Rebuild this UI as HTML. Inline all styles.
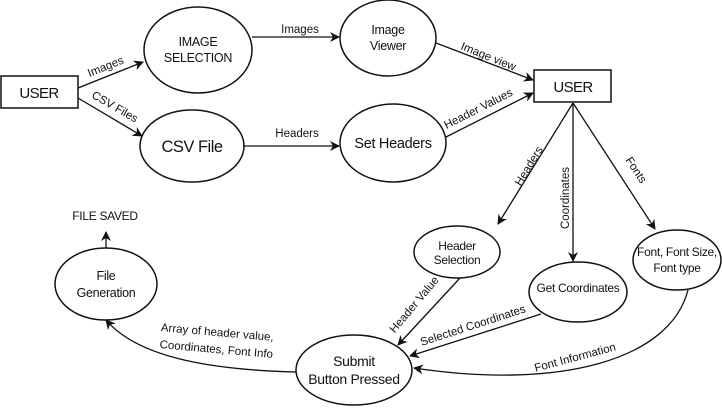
<!DOCTYPE html>
<html><head><style>body{margin:0;background:#fff}svg{display:block}text{font-family:"Liberation Sans",sans-serif;fill:#111}</style></head><body>
<svg width="722" height="408" viewBox="0 0 722 408" xmlns="http://www.w3.org/2000/svg">
<defs><marker id="a" markerWidth="10" markerHeight="10" refX="9" refY="5" orient="auto" markerUnits="userSpaceOnUse"><path d="M0,0 L10,5 L0,10 L3,5 Z" fill="#111"/></marker></defs>
<g fill="none" stroke="#111" stroke-width="1.5">
<rect x="1" y="76" width="77" height="32"/>
<rect x="534" y="70" width="77" height="32"/>
<ellipse cx="198" cy="50" rx="54" ry="43"/>
<ellipse cx="192" cy="146" rx="52" ry="36"/>
<ellipse cx="388" cy="38" rx="48" ry="38"/>
<ellipse cx="393" cy="143" rx="53" ry="39"/>
<ellipse cx="457" cy="252" rx="43" ry="26"/>
<ellipse cx="578" cy="292" rx="49" ry="30"/>
<ellipse cx="677" cy="260" rx="44" ry="30"/>
<ellipse cx="354" cy="370" rx="58" ry="35"/>
<ellipse cx="106" cy="284" rx="51" ry="36"/>
</g>
<g fill="none" stroke="#111" stroke-width="1.3" marker-end="url(#a)">
<line x1="78" y1="88" x2="143" y2="62"/>
<line x1="78" y1="98" x2="142" y2="136"/>
<line x1="252" y1="37" x2="339" y2="37"/>
<line x1="243" y1="146" x2="339" y2="146"/>
<line x1="436" y1="43" x2="533" y2="80"/>
<line x1="446" y1="137" x2="533" y2="93"/>
<line x1="573" y1="103" x2="498" y2="224"/>
<line x1="573" y1="103" x2="573" y2="261"/>
<line x1="573" y1="103" x2="655" y2="229"/>
<line x1="460" y1="278" x2="398" y2="345"/>
<line x1="541" y1="314" x2="410" y2="356"/>
<path d="M688,290 C670,360 560,390 414,368"/>
<path d="M296,372 C220,370 140,360 106,320"/>
<line x1="106" y1="248" x2="106" y2="232"/>
</g>
<g font-size="12.5" text-anchor="middle" letter-spacing="-0.3">
<text x="39" y="98" font-size="15" letter-spacing="-0.6">USER</text>
<text x="573" y="92" font-size="15" letter-spacing="-0.6">USER</text>
<text x="198" y="46">IMAGE</text><text x="198" y="62">SELECTION</text>
<text x="192" y="152" font-size="16.5" letter-spacing="-0.5">CSV File</text>
<text x="388" y="34">Image</text><text x="388" y="50">Viewer</text>
<text x="393" y="148" font-size="14.5">Set Headers</text>
<text x="457" y="250" font-size="12">Header</text><text x="457" y="264" font-size="12">Selection</text>
<text x="578" y="292" font-size="12">Get Coordinates</text>
<text x="677" y="256" font-size="12">Font, Font Size,</text><text x="677" y="272" font-size="12">Font type</text>
<text x="354" y="366" font-size="14">Submit</text><text x="354" y="384" font-size="14">Button Pressed</text>
<text x="106" y="280">File</text><text x="106" y="297">Generation</text>
<text x="105" y="220" font-size="12">FILE SAVED</text>
</g>
<g font-size="11.5" text-anchor="middle">
<text x="300" y="33">Images</text>
<text x="297" y="137">Headers</text>
<text transform="translate(107,70) rotate(-22)">Images</text>
<text transform="translate(113,110) rotate(30)">CSV Files</text>
<text transform="translate(487,60) rotate(22)">Image view</text>
<text transform="translate(480,112) rotate(-27)">Header Values</text>
<text transform="translate(532,168) rotate(-59)">Headers</text>
<text transform="translate(569,198) rotate(-90)">Coordinates</text>
<text transform="translate(633,172) rotate(57)">Fonts</text>
<text transform="translate(417,307) rotate(-50)">Header Value</text>
<text transform="translate(474,329) rotate(-18)">Selected Coordinates</text>
<text transform="translate(576,361) rotate(-15)">Font Information</text>
<text transform="translate(217,336) rotate(5)">Array of header value,</text>
<text transform="translate(216,353) rotate(5)">Coordinates, Font Info</text>
</g>
</svg>
</body></html>
